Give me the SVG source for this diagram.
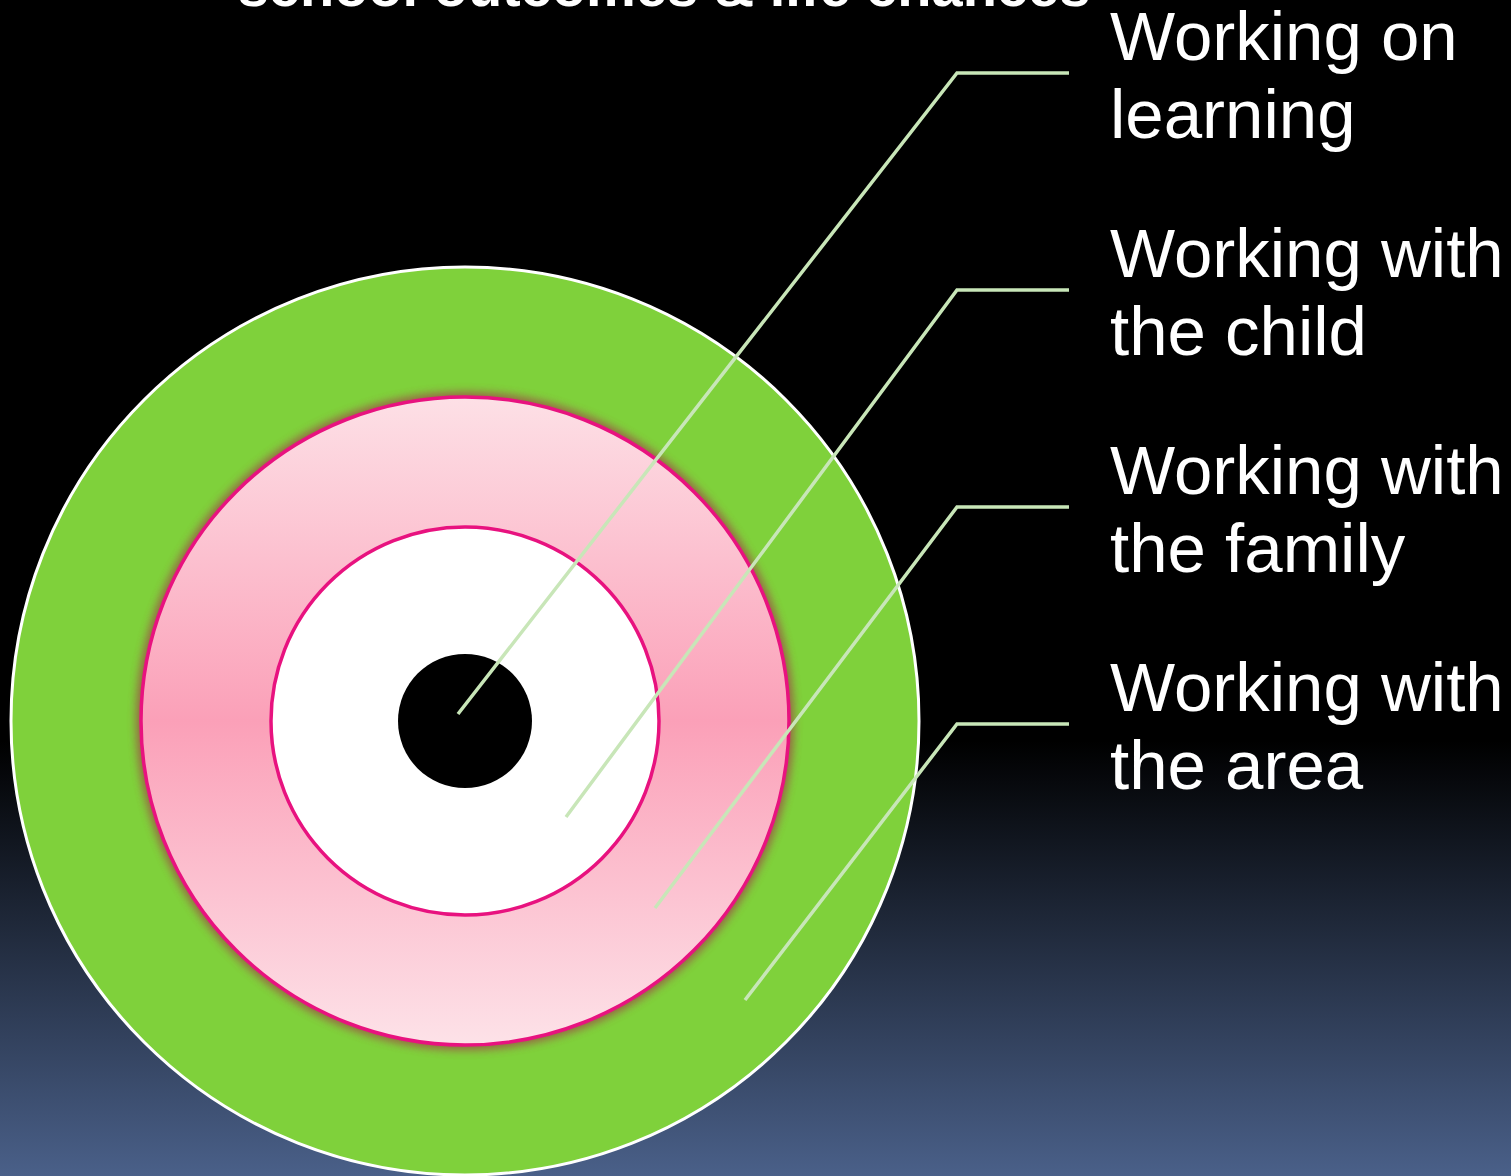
<svg xmlns="http://www.w3.org/2000/svg" width="1511" height="1176" viewBox="0 0 1511 1176">
  <defs>
    <linearGradient id="bg" x1="0" y1="0" x2="0" y2="1176" gradientUnits="userSpaceOnUse">
      <stop offset="0" stop-color="#000000"/>
      <stop offset="0.63" stop-color="#000000"/>
      <stop offset="1" stop-color="#4a6089"/>
    </linearGradient>
    <linearGradient id="pink" x1="0" y1="0" x2="0" y2="1">
      <stop offset="0" stop-color="#fde0e6"/>
      <stop offset="0.5" stop-color="#fba0b8"/>
      <stop offset="1" stop-color="#fde2e8"/>
    </linearGradient>
    <filter id="glow" x="-10%" y="-10%" width="120%" height="120%">
      <feGaussianBlur stdDeviation="4"/>
    </filter>
    <style>
      .lbl { font-family: "Liberation Sans", Arial, sans-serif; font-size: 69px; fill: #ffffff; }
      .title { font-family: "Liberation Sans", Arial, sans-serif; font-size: 56px; font-weight: bold; fill: #ffffff; }
      .conn { fill: none; stroke: #c8e6b8; stroke-width: 3.5; }
    </style>
  </defs>
  <rect x="0" y="0" width="1511" height="1176" fill="url(#bg)"/>
  <text class="title" x="664" y="6" text-anchor="middle">school outcomes &amp; life chances</text>

  <g id="ring-area">
    <circle cx="465" cy="721" r="454" fill="#7fd13b" stroke="#ffffff" stroke-width="3"/>
  </g>
  <g id="ring-family">
    <circle cx="465" cy="721" r="329" fill="#9a5a44" opacity="0.9" filter="url(#glow)"/>
    <circle cx="465" cy="721" r="324" fill="url(#pink)" stroke="#e8127f" stroke-width="3.5"/>
  </g>
  <g id="ring-child">
    <circle cx="465" cy="721" r="194" fill="#ffffff" stroke="#e8127f" stroke-width="3.5"/>
  </g>
  <g id="ring-learning">
    <circle cx="465" cy="721" r="67" fill="#000000"/>
  </g>

  <g id="connectors">
    <polyline class="conn" points="458,714 957,73 1069,73"/>
    <polyline class="conn" points="566,817 957,290 1069,290"/>
    <polyline class="conn" points="655,908 957,507 1069,507"/>
    <polyline class="conn" points="745,1000 957,724 1069,724"/>
  </g>

  <g id="label-learning">
    <text class="lbl" x="1110" y="60">Working on</text>
    <text class="lbl" x="1110" y="138">learning</text>
  </g>
  <g id="label-child">
    <text class="lbl" x="1110" y="277">Working with</text>
    <text class="lbl" x="1110" y="355">the child</text>
  </g>
  <g id="label-family">
    <text class="lbl" x="1110" y="494">Working with</text>
    <text class="lbl" x="1110" y="572">the family</text>
  </g>
  <g id="label-area">
    <text class="lbl" x="1110" y="711">Working with</text>
    <text class="lbl" x="1110" y="789">the area</text>
  </g>
</svg>
